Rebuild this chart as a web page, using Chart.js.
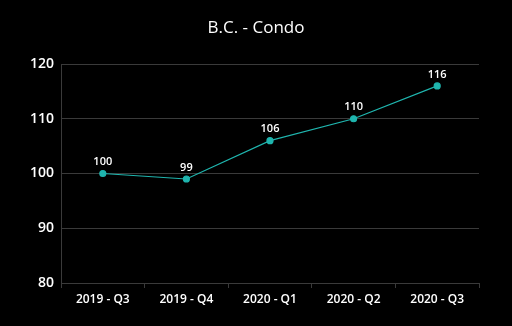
<!DOCTYPE html>
<html>
<head>
<meta charset="utf-8">
<script src="https://cdn.jsdelivr.net/npm/chart.js@4"></script>
<style>
  html, body { margin: 0; padding: 0; background: #000; }
  #wrap { width: 512px; height: 326px; }
</style>
</head>
<body>
<div id="wrap"><canvas id="condoChart"></canvas></div>
<script>
// data
const quarters = ['2019 - Q3', '2019 - Q4', '2020 - Q1', '2020 - Q2', '2020 - Q3'];
const condoIndex = [100, 99, 106, 110, 116];
const yTicks = [80, 90, 100, 110, 120];
const chartTitle = 'B.C. - Condo';

const lineColor = '#1fb5ae';
const gridColor = '#3a3a3a';

// value labels above points + title centred on the whole canvas
const valueLabels = {
    id: 'valueLabels',
    afterDatasetsDraw(chart) {
        const ctx = chart.ctx;
        const meta = chart.getDatasetMeta(0);
        ctx.save();
        ctx.fillStyle = '#ffffff';
        ctx.font = '600 11px "Open Sans"';
        ctx.textAlign = 'center';
        ctx.textBaseline = 'bottom';
        meta.data.forEach((pt, i) => {
            ctx.fillText(condoIndex[i], pt.x, pt.y - 6);
        });
        ctx.font = '500 17px "Open Sans"';
        ctx.textBaseline = 'middle';
        ctx.fillText(chartTitle, chart.width / 2, 28);
        ctx.restore();
    }
};

const ctx = document.getElementById('condoChart').getContext('2d');
const condoChart = new Chart(ctx, {
    type: 'line',
    data: {
        labels: quarters,
        datasets: [{
            label: chartTitle,
            data: condoIndex,
            borderColor: lineColor,
            backgroundColor: lineColor,
            borderWidth: 1.2,
            pointRadius: 3,
            pointHoverRadius: 3,
            tension: 0
        }]
    },
    options: {
        responsive: true,
        maintainAspectRatio: false,
        animation: false,
        layout: { padding: { left: 0, right: 33, top: 64, bottom: 0 } },
        plugins: {
            legend: { display: false },
            tooltip: { enabled: false },
            title: { display: false }
        },
        scales: {
            x: {
                offset: true,
                grid: {
                    drawOnChartArea: false,
                    drawTicks: true,
                    tickLength: 5,
                    color: gridColor,
                    offset: true
                },
                border: { color: gridColor, width: 1 },
                ticks: {
                    color: '#ffffff',
                    font: { family: 'Open Sans', size: 12, weight: '600' },
                    padding: 4,
                    maxRotation: 0
                },
                afterFit(scale) { scale.height = 43; }
            },
            y: {
                min: 80,
                max: 120,
                afterBuildTicks(scale) { scale.ticks = yTicks.map(v => ({ value: v })); },
                grid: { color: gridColor, drawTicks: false },
                border: { color: gridColor, width: 1 },
                ticks: {
                    color: '#ffffff',
                    font: { family: 'Open Sans', size: 14, weight: '600' },
                    padding: 7
                },
                afterFit(scale) { scale.width = 61; }
            }
        }
    },
    plugins: [valueLabels]
});
</script>
</body>
</html>
